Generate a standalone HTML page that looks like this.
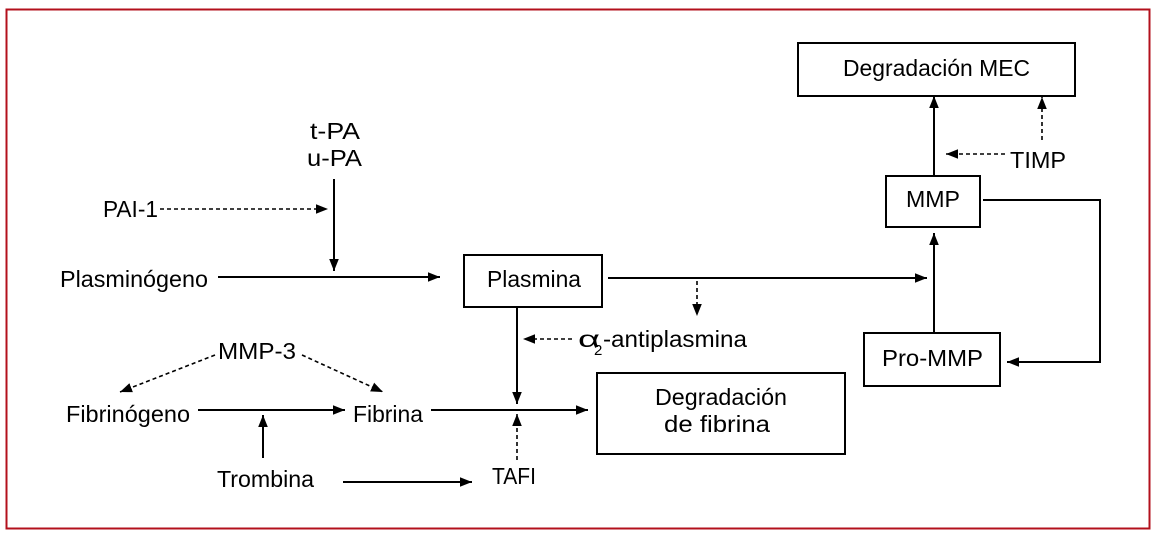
<!DOCTYPE html>
<html><head><meta charset="utf-8"><style>
html,body{margin:0;padding:0;background:#fff;}
svg{display:block}
text{font-family:"Liberation Sans",sans-serif;font-size:23px;fill:#000}
</style></head><body>
<svg width="1157" height="539" viewBox="0 0 1157 539" xmlns="http://www.w3.org/2000/svg">
<defs>
<marker id="a" viewBox="0 0 10 10" refX="10" refY="5" markerWidth="12" markerHeight="12" markerUnits="userSpaceOnUse" orient="auto"><path d="M0,1 L10,5 L0,9 z" fill="#000"/></marker>
</defs>
<rect x="6.5" y="9.5" width="1143" height="519" fill="none" stroke="#b3101c" stroke-width="2"/>
<g fill="none" stroke="#000" stroke-width="2">
<rect x="798" y="43" width="277" height="53"/>
<rect x="464" y="255" width="138" height="52"/>
<rect x="886" y="176" width="94" height="51"/>
<rect x="864" y="333" width="136" height="53"/>
<rect x="597" y="373" width="248" height="81"/>
<line x1="334" y1="179" x2="334" y2="271" marker-end="url(#a)"/>
<line x1="218" y1="277" x2="440" y2="277" marker-end="url(#a)"/>
<line x1="608" y1="278" x2="927" y2="278" marker-end="url(#a)"/>
<line x1="517" y1="308" x2="517" y2="404" marker-end="url(#a)"/>
<line x1="198" y1="410" x2="345" y2="410" marker-end="url(#a)"/>
<line x1="431" y1="410" x2="588" y2="410" marker-end="url(#a)"/>
<line x1="263" y1="458" x2="263" y2="415" marker-end="url(#a)"/>
<line x1="343" y1="482" x2="472" y2="482" marker-end="url(#a)"/>
<line x1="934" y1="333" x2="934" y2="233" marker-end="url(#a)"/>
<line x1="934" y1="176" x2="934" y2="96" marker-end="url(#a)"/>
<polyline points="983,200 1100,200 1100,362 1007,362" marker-end="url(#a)"/>
</g>
<g fill="none" stroke="#000" stroke-width="1.6" stroke-dasharray="4,3">
<line x1="160" y1="209" x2="328" y2="209" marker-end="url(#a)"/>
<line x1="697" y1="281" x2="697" y2="316" marker-end="url(#a)"/>
<line x1="572" y1="339" x2="523" y2="339" marker-end="url(#a)"/>
<line x1="215" y1="355" x2="120" y2="392" marker-end="url(#a)"/>
<line x1="302" y1="355" x2="383" y2="392" marker-end="url(#a)"/>
<line x1="517" y1="460" x2="517" y2="414" marker-end="url(#a)"/>
<line x1="1005" y1="154" x2="946" y2="154" marker-end="url(#a)"/>
<line x1="1042" y1="140" x2="1042" y2="97" marker-end="url(#a)"/>
</g>
<text x="843" y="76" textLength="187" lengthAdjust="spacingAndGlyphs">Degradación MEC</text>
<text x="310" y="139" textLength="50" lengthAdjust="spacingAndGlyphs">t-PA</text>
<text x="307" y="166" textLength="55" lengthAdjust="spacingAndGlyphs">u-PA</text>
<text x="103" y="217" textLength="55" lengthAdjust="spacingAndGlyphs">PAI-1</text>
<text x="60" y="287" textLength="148" lengthAdjust="spacingAndGlyphs">Plasminógeno</text>
<text x="487" y="287" textLength="94" lengthAdjust="spacingAndGlyphs">Plasmina</text>
<text x="906" y="207" textLength="54" lengthAdjust="spacingAndGlyphs">MMP</text>
<text x="1010" y="168" textLength="56" lengthAdjust="spacingAndGlyphs">TIMP</text>
<text x="882" y="366" textLength="101" lengthAdjust="spacingAndGlyphs">Pro-MMP</text>
<text x="578" y="347" textLength="22" lengthAdjust="spacingAndGlyphs">α</text>
<text x="594" y="355" style="font-size:15px">2</text>
<text x="603" y="347" textLength="144" lengthAdjust="spacingAndGlyphs">-antiplasmina</text>
<text x="218" y="359" textLength="78" lengthAdjust="spacingAndGlyphs">MMP-3</text>
<text x="66" y="422" textLength="124" lengthAdjust="spacingAndGlyphs">Fibrinógeno</text>
<text x="353" y="422" textLength="70" lengthAdjust="spacingAndGlyphs">Fibrina</text>
<text x="655" y="405" textLength="132" lengthAdjust="spacingAndGlyphs">Degradación</text>
<text x="664" y="432" textLength="106" lengthAdjust="spacingAndGlyphs">de fibrina</text>
<text x="217" y="487" textLength="97" lengthAdjust="spacingAndGlyphs">Trombina</text>
<text x="492" y="484" textLength="44" lengthAdjust="spacingAndGlyphs">TAFI</text>
</svg>
</body></html>
